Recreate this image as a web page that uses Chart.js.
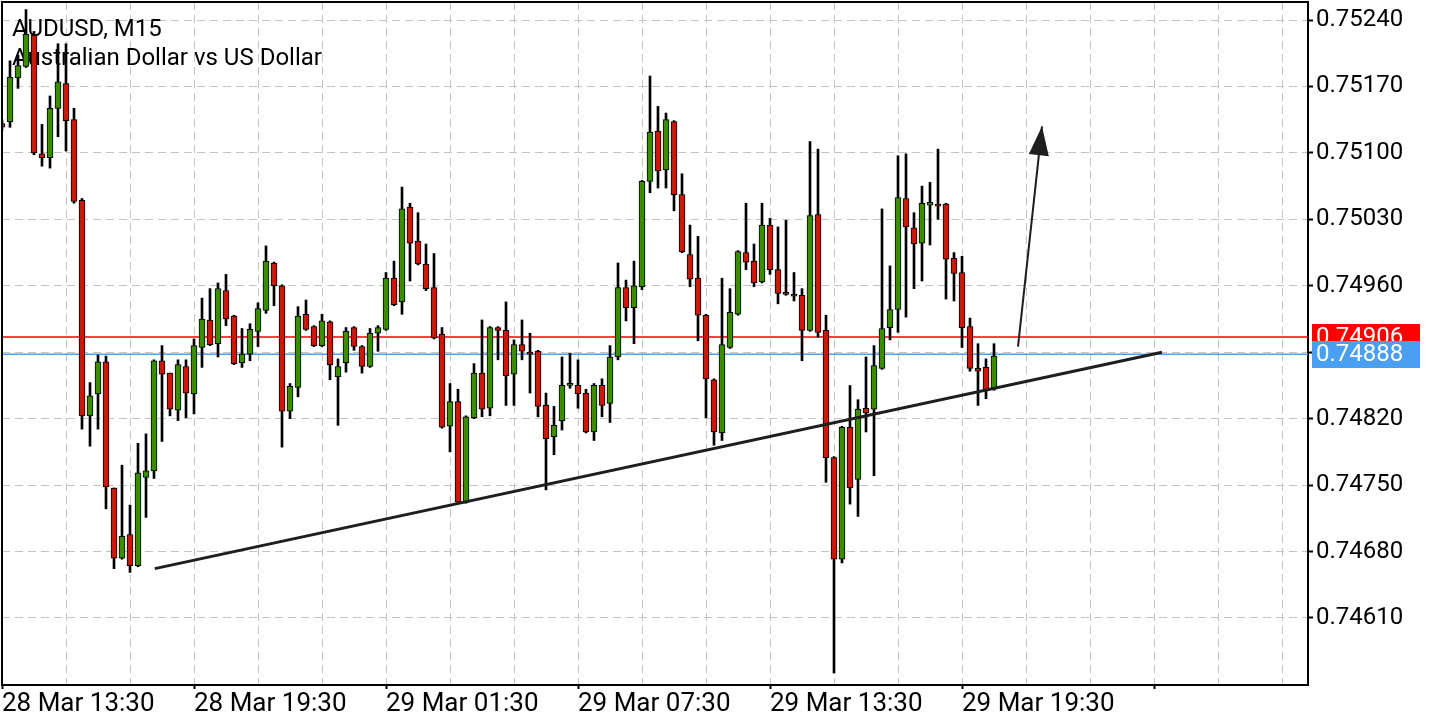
<!DOCTYPE html>
<html lang="en">
<head>
    <meta charset="UTF-8">
    <title>AUDUSD, M15</title>
    <script src="https://cdn.jsdelivr.net/npm/chart.js"></script>
    <style>
        html, body { margin: 0; padding: 0; background: #fff; }
        .wrap { position: relative; width: 1440px; height: 720px; }
    </style>
</head>
<body>
    <div class="wrap"><canvas id="chart"></canvas></div>

    <script>
        // 15 minute candles, slot 0 = 28 Mar 13:30
        const opens = [0.75131,0.75133,0.75179,0.75191,0.75224,0.75099,0.75095,0.75147,0.75173,0.75135,
            0.75050,0.74823,0.74846,0.74880,0.74747,0.74673,0.74698,0.74665,0.74758,0.74765,
            0.74881,0.74868,0.74829,0.74875,0.74846,0.74895,0.74924,0.74899,0.74955,0.74928,
            0.74879,0.74888,0.74912,0.74934,0.74984,0.74960,0.74828,0.74853,0.74930,0.74917,
            0.74897,0.74922,0.74864,0.74879,0.74916,0.74896,0.74875,0.74910,0.74914,0.74968,
            0.74943,0.75043,0.75007,0.74983,0.74958,0.74909,0.74812,0.74838,0.74732,0.74821,
            0.74868,0.74831,0.74916,0.74913,0.74867,0.74898,0.74890,0.74891,0.74834,0.74801,
            0.74818,0.74855,0.74855,0.74847,0.74806,0.74855,0.74836,0.74885,0.74958,0.74937,
            0.74959,0.75070,0.75123,0.75082,0.75133,0.75056,0.74993,0.74968,0.74929,0.74861,
            0.74805,0.74895,0.74930,0.74995,0.74986,0.74964,0.75024,0.74977,0.74952,0.74951,
            0.74950,0.74913,0.75035,0.74913,0.74779,0.74672,0.74811,0.74756,0.74831,0.74830,
            0.74873,0.74916,0.74935,0.75052,0.75021,0.75005,0.75045,0.75046,0.75046,0.74989,
            0.74974,0.74917,0.74873,0.74874,0.74851];
        const highs = [0.75135,0.75197,0.75203,0.75251,0.75228,0.75130,0.75160,0.75215,0.75215,0.75147,
            0.75052,0.74858,0.74887,0.74886,0.74747,0.74771,0.74729,0.74794,0.74804,0.74882,
            0.74897,0.74868,0.74882,0.74882,0.74904,0.74947,0.74957,0.74963,0.74972,0.74929,
            0.74915,0.74920,0.74942,0.75002,0.74985,0.74961,0.74857,0.74938,0.74945,0.74918,
            0.74930,0.74923,0.74883,0.74916,0.74917,0.74897,0.74915,0.74918,0.74974,0.74986,
            0.75064,0.75047,0.75037,0.75004,0.74994,0.74916,0.74857,0.74851,0.74823,0.74878,
            0.74924,0.74917,0.74917,0.74943,0.74903,0.74924,0.74910,0.74892,0.74847,0.74833,
            0.74885,0.74889,0.74882,0.74851,0.74857,0.74862,0.74897,0.74984,0.74966,0.74986,
            0.75071,0.75181,0.75149,0.75142,0.75134,0.75078,0.75024,0.75012,0.74930,0.74862,
            0.74968,0.74957,0.74997,0.75047,0.75004,0.75047,0.75031,0.75022,0.75029,0.74974,
            0.74957,0.75112,0.75104,0.74929,0.74780,0.74812,0.74855,0.74840,0.74885,0.74897,
            0.75041,0.74981,0.75097,0.75099,0.75037,0.75065,0.75069,0.75104,0.75047,0.74995,
            0.74991,0.74926,0.74899,0.74883,0.74899];
        const lows = [0.75124,0.75127,0.75168,0.75190,0.75098,0.75086,0.75084,0.75117,0.75102,0.75047,
            0.74809,0.74791,0.74809,0.74725,0.74662,0.74672,0.74658,0.74664,0.74716,0.74757,
            0.74796,0.74823,0.74818,0.74821,0.74825,0.74874,0.74897,0.74885,0.74918,0.74877,
            0.74874,0.74881,0.74896,0.74931,0.74939,0.74790,0.74820,0.74843,0.74913,0.74896,
            0.74896,0.74861,0.74813,0.74869,0.74892,0.74868,0.74874,0.74891,0.74913,0.74939,
            0.74930,0.74965,0.74982,0.74955,0.74904,0.74810,0.74785,0.74731,0.74731,0.74820,
            0.74822,0.74823,0.74882,0.74834,0.74834,0.74882,0.74847,0.74822,0.74745,0.74782,
            0.74808,0.74852,0.74831,0.74805,0.74797,0.74822,0.74816,0.74882,0.74923,0.74899,
            0.74956,0.75058,0.75063,0.75063,0.75039,0.74995,0.74959,0.74902,0.74821,0.74792,
            0.74797,0.74894,0.74929,0.74977,0.74959,0.74963,0.74972,0.74941,0.74950,0.74944,
            0.74881,0.74912,0.74906,0.74753,0.74552,0.74668,0.74730,0.74717,0.74806,0.74760,
            0.74872,0.74903,0.74911,0.74927,0.74957,0.74965,0.75003,0.75030,0.74946,0.74944,
            0.74895,0.74870,0.74834,0.74841,0.74850];
        const closes = [0.75127,0.75180,0.75192,0.75225,0.75100,0.75095,0.75147,0.75175,0.75134,0.75049,
            0.74823,0.74844,0.74880,0.74748,0.74673,0.74696,0.74665,0.74763,0.74765,0.74881,
            0.74867,0.74830,0.74877,0.74847,0.74897,0.74925,0.74898,0.74957,0.74925,0.74878,
            0.74888,0.74914,0.74936,0.74986,0.74960,0.74828,0.74854,0.74928,0.74914,0.74897,
            0.74923,0.74877,0.74875,0.74912,0.74896,0.74875,0.74910,0.74916,0.74968,0.74940,
            0.75041,0.75005,0.74983,0.74957,0.74905,0.74811,0.74838,0.74732,0.74822,0.74868,
            0.74830,0.74916,0.74913,0.74865,0.74898,0.74891,0.74888,0.74833,0.74799,0.74813,
            0.74855,0.74856,0.74846,0.74806,0.74855,0.74834,0.74885,0.74958,0.74937,0.74960,
            0.75070,0.75122,0.75081,0.75135,0.75056,0.74996,0.74967,0.74929,0.74862,0.74806,
            0.74898,0.74932,0.74996,0.74985,0.74963,0.75024,0.74977,0.74952,0.74951,0.74949,
            0.74913,0.75034,0.74911,0.74779,0.74672,0.74811,0.74747,0.74830,0.74826,0.74876,
            0.74915,0.74935,0.75053,0.75022,0.75004,0.75047,0.75048,0.75044,0.74988,0.74973,
            0.74916,0.74873,0.74870,0.74850,0.74886];

        const xTickLabels = ['28 Mar 13:30', '28 Mar 19:30', '29 Mar 01:30', '29 Mar 07:30', '29 Mar 13:30', '29 Mar 19:30'];
        const yTickValues = [0.75240, 0.75170, 0.75100, 0.75030, 0.74960, 0.74890, 0.74820, 0.74750, 0.74680, 0.74610];

        const priceLevels = [0.74906, 0.74888];   // ask (red), bid (blue)
        const trendX = [19.1, 145.0];
        const trendY = [0.74662, 0.74890];
        const arrowX = [127.0, 130.0];
        const arrowY = [0.74896, 0.75128];

        const GREEN = '#3c8c00', RED = '#c81a0a', BLUE = '#4a9ff2';
        const FONT = 'Roboto, "Noto Sans", sans-serif';

        const bodies = opens.map((o, i) => ({ x: i, y: [o, closes[i]] }));
        const wicks = lows.map((l, i) => ({ x: i, y: [l, highs[i]] }));
        const upColor = ctx => closes[ctx.dataIndex] >= opens[ctx.dataIndex] ? GREEN : RED;

        const chartDecor = {
            id: 'chartDecor',
            beforeDatasetsDraw(chart) {
                const c = chart.ctx;
                c.save();
                c.fillStyle = '#000';
                c.font = '24px ' + FONT;
                c.textBaseline = 'alphabetic';
                c.fillText('AUDUSD, M15', 12, 36);
                c.fillText('Australian Dollar vs US Dollar', 12, 65);
                c.restore();
            },
            afterDatasetsDraw(chart) {
                // arrow head
                const xs = chart.scales.x, ys = chart.scales.y, c = chart.ctx;
                const x0 = xs.getPixelForValue(arrowX[0]), y0 = ys.getPixelForValue(arrowY[0]);
                const x1 = xs.getPixelForValue(arrowX[1]), y1 = ys.getPixelForValue(arrowY[1]);
                const len = Math.hypot(x1 - x0, y1 - y0);
                const ux = (x1 - x0) / len, uy = (y1 - y0) / len;
                const bx = x1 - ux * 29, by = y1 - uy * 29;
                c.save();
                c.fillStyle = '#1e1e1e';
                c.beginPath();
                c.moveTo(x1, y1);
                c.lineTo(bx - uy * 10, by + ux * 10);
                c.lineTo(bx + uy * 10, by - ux * 10);
                c.closePath();
                c.fill();
                c.restore();
            },
            afterDraw(chart) {
                const a = chart.chartArea, c = chart.ctx, ys = chart.scales.y;
                c.save();
                c.strokeStyle = '#000';
                c.lineWidth = 2;
                c.beginPath();
                c.moveTo(a.left, a.bottom);
                c.lineTo(a.left, a.top);
                c.lineTo(a.right, a.top);
                c.stroke();
                // price tags on the right axis
                const colors = ['#ff0000', BLUE];
                c.font = '24px ' + FONT;
                c.textBaseline = 'middle';
                priceLevels.forEach((p, i) => {
                    const y = ys.getPixelForValue(p);
                    c.fillStyle = colors[i];
                    c.fillRect(a.right + 4, Math.round(y) - 13, 108, 27);
                    c.fillStyle = '#fff';
                    c.fillText(p.toFixed(5), a.right + 8, y + 1);
                });
                c.restore();
            }
        };

        new Chart(document.getElementById('chart'), {
            type: 'bar',
            data: {
                datasets: [
                    { label: 'bodies', data: bodies, backgroundColor: upColor, borderColor: '#000', borderWidth: 1,
                      borderSkipped: false, barThickness: 6, minBarLength: 2, grouped: false, order: 1 },
                    { label: 'wicks', data: wicks, backgroundColor: '#000', barThickness: 2, grouped: false, order: 2 },
                    { type: 'line', label: 'trend', data: trendX.map((x, i) => ({ x, y: trendY[i] })),
                      borderColor: '#1e1e1e', borderWidth: 3, pointRadius: 0, order: 0 },
                    { type: 'line', label: 'arrow', data: arrowX.map((x, i) => ({ x, y: arrowY[i] })),
                      borderColor: '#1e1e1e', borderWidth: 2, pointRadius: 0, order: 0 },
                    { type: 'line', label: 'ask', data: [{ x: 0, y: priceLevels[0] }, { x: 163.25, y: priceLevels[0] }],
                      borderColor: '#ff0000', borderWidth: 1.5, pointRadius: 0, order: 3 },
                    { type: 'line', label: 'bid', data: [{ x: 0, y: priceLevels[1] }, { x: 163.25, y: priceLevels[1] }],
                      borderColor: BLUE, borderWidth: 1.5, pointRadius: 0, order: 3 }
                ]
            },
            options: {
                responsive: true,
                maintainAspectRatio: false,
                animation: false,
                devicePixelRatio: 1,
                layout: { padding: { left: 2, top: 2, right: 0, bottom: 0 } },
                plugins: { legend: { display: false }, tooltip: { enabled: false } },
                scales: {
                    x: {
                        type: 'linear',
                        min: 0,
                        max: 163.25,
                        offset: false,
                        afterBuildTicks: s => { s.ticks = []; for (let v = 0; v <= 160; v += 8) s.ticks.push({ value: v }); },
                        afterFit: s => { s.height = 35; s.paddingLeft = 0; s.paddingRight = 0; },
                        grid: {
                            offset: false,
                            color: '#c4c4c4',
                            lineWidth: 1,
                            tickColor: ctx => (ctx.tick && ctx.tick.value % 24 === 0) ? '#000' : 'rgba(0,0,0,0)',
                            tickLength: 4,
                            tickWidth: 2
                        },
                        border: { color: '#000', width: 2, dash: [8, 5] },
                        ticks: {
                            autoSkip: false,
                            maxRotation: 0,
                            align: 'start',
                            padding: 0,
                            color: '#000',
                            font: { family: FONT, size: 26 },
                            callback: v => v % 24 === 0 ? (xTickLabels[v / 24] || '') : ''
                        }
                    },
                    y: {
                        position: 'right',
                        min: 0.745394,
                        max: 0.752590,
                        afterBuildTicks: s => { s.ticks = yTickValues.map(v => ({ value: v })); },
                        afterFit: s => { s.width = 132; s.paddingTop = 0; s.paddingBottom = 0; },
                        grid: { color: '#c4c4c4', lineWidth: 1, tickColor: '#000', tickLength: 5, tickWidth: 2 },
                        border: { color: '#000', width: 2, dash: [8, 5] },
                        ticks: {
                            padding: 3,
                            color: '#000',
                            font: { family: FONT, size: 24 },
                            callback: v => v.toFixed(5)
                        }
                    }
                }
            },
            plugins: [chartDecor]
        });
    </script>
</body>
</html>
